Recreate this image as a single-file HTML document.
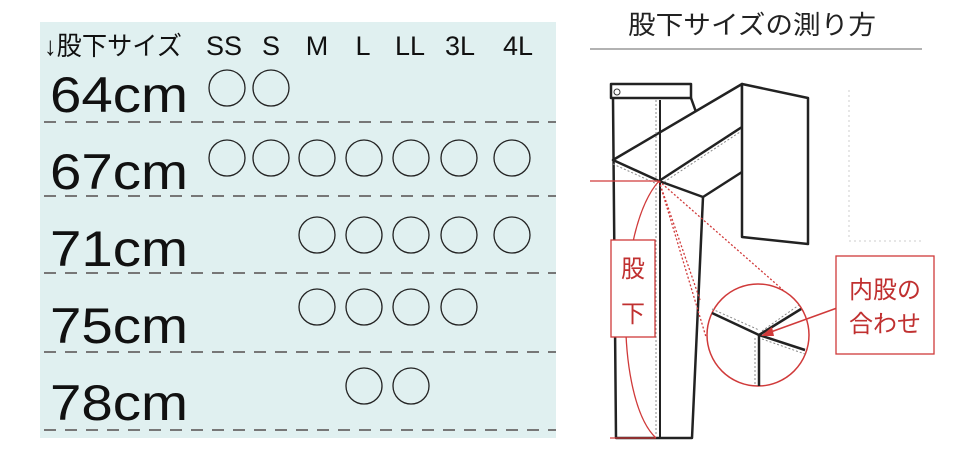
<!DOCTYPE html>
<html><head><meta charset="utf-8"><style>
html,body{margin:0;padding:0;background:#fff;width:964px;height:458px;overflow:hidden}
</style></head><body>
<svg width="964" height="458" viewBox="0 0 964 458" xmlns="http://www.w3.org/2000/svg" font-family="Liberation Sans, Noto Sans CJK JP, sans-serif">
<rect x="40" y="22" width="516" height="416" fill="#e0f0f0"/>
<text x="44" y="55" font-size="26" fill="#111" textLength="138" lengthAdjust="spacingAndGlyphs">↓股下サイズ</text>
<g font-size="27" fill="#111" text-anchor="middle">
<text x="224" y="55">SS</text><text x="271" y="55">S</text><text x="317" y="55">M</text><text x="363" y="55">L</text><text x="410" y="55">LL</text><text x="460" y="55">3L</text><text x="518" y="55">4L</text>
</g>
<g font-size="50" fill="#111">
<text x="50" y="112" textLength="138" lengthAdjust="spacingAndGlyphs">64cm</text>
<text x="50" y="189" textLength="138" lengthAdjust="spacingAndGlyphs">67cm</text>
<text x="50" y="266" textLength="138" lengthAdjust="spacingAndGlyphs">71cm</text>
<text x="50" y="343" textLength="138" lengthAdjust="spacingAndGlyphs">75cm</text>
<text x="50" y="420" textLength="138" lengthAdjust="spacingAndGlyphs">78cm</text>
</g>
<g stroke="#777" stroke-width="2" stroke-dasharray="12,9">
<line x1="44" y1="122" x2="556" y2="122"/><line x1="44" y1="196" x2="556" y2="196"/><line x1="44" y1="273" x2="556" y2="273"/><line x1="44" y1="352" x2="556" y2="352"/><line x1="44" y1="430" x2="556" y2="430"/>
</g>
<g fill="none" stroke="#222" stroke-width="1.3">
<circle cx="227" cy="88" r="18"/><circle cx="271" cy="88" r="18"/>
<circle cx="227" cy="158" r="18"/><circle cx="271" cy="158" r="18"/><circle cx="317" cy="158" r="18"/><circle cx="364" cy="158" r="18"/><circle cx="411" cy="158" r="18"/><circle cx="459" cy="158" r="18"/><circle cx="512" cy="158" r="18"/>
<circle cx="317" cy="235" r="18"/><circle cx="364" cy="235" r="18"/><circle cx="411" cy="235" r="18"/><circle cx="459" cy="235" r="18"/><circle cx="512" cy="235" r="18"/>
<circle cx="317" cy="307" r="18"/><circle cx="364" cy="307" r="18"/><circle cx="411" cy="307" r="18"/><circle cx="459" cy="307" r="18"/>
<circle cx="364" cy="386" r="18"/><circle cx="411" cy="386" r="18"/>
</g>
<text x="628" y="34" font-size="26" fill="#222" textLength="248" lengthAdjust="spacingAndGlyphs">股下サイズの測り方</text>
<line x1="590" y1="49" x2="922" y2="49" stroke="#999" stroke-width="1.5"/>
<g stroke="#ccc" stroke-dasharray="2,3" fill="none"><line x1="849" y1="90" x2="849" y2="240"/><line x1="849" y1="241" x2="922" y2="241"/></g>
<g fill="none" stroke="#222" stroke-width="2.5" stroke-linejoin="round">
<rect x="611" y="84" width="80" height="14" fill="#fff"/>
<line x1="691" y1="98" x2="696" y2="112"/>
<polyline points="613,98 616,438 692,438 703,197"/>
<polygon points="613,160 742,84 742,127 659,181" fill="#fff"/>
<polyline points="659,181 703,197 742,172"/>
<polygon points="742,84 808,98 808,244 742,237" fill="#fff"/>
<line x1="660" y1="100" x2="660" y2="438" stroke-width="2"/>
</g>
<g stroke="#888" stroke-width="1" stroke-dasharray="2,2" fill="none">
<line x1="656" y1="100" x2="656" y2="436"/><line x1="664" y1="182" x2="740" y2="132"/><line x1="613" y1="164" x2="657" y2="184"/>
</g>
<circle cx="617" cy="92" r="3" fill="none" stroke="#333"/>
<g stroke="#d03a3a" fill="none" stroke-width="1.3">
<line x1="590" y1="181" x2="659" y2="181"/>
<path d="M659,181 C615,230 615,400 656,438"/>
<line x1="610" y1="438" x2="656" y2="438"/>
<g stroke-dasharray="2,2"><line x1="659" y1="181" x2="706" y2="337"/><line x1="659" y1="181" x2="783" y2="290"/><line x1="659" y1="181" x2="700" y2="300"/></g>
</g>
<circle cx="758" cy="335" r="51" fill="#fff" stroke="#d03a3a" stroke-width="1.5"/>
<g stroke="#222" stroke-width="2.5"><line x1="712" y1="313" x2="759" y2="335"/><line x1="759" y1="335" x2="801" y2="309"/><line x1="759" y1="335" x2="805" y2="350"/><line x1="759" y1="335" x2="759" y2="386"/></g>
<g stroke="#888" stroke-dasharray="2,2" stroke-width="1"><line x1="712" y1="309" x2="759" y2="330"/><line x1="762" y1="331" x2="799" y2="305"/><line x1="762" y1="339" x2="805" y2="354"/><line x1="755" y1="338" x2="755" y2="386"/></g>
<line x1="837" y1="308" x2="768" y2="333" stroke="#d03a3a" stroke-width="1.5"/>
<polygon points="761,336 772,327 774,336" fill="#d03a3a"/>
<rect x="611" y="240" width="44" height="97" fill="#fff" stroke="#d03a3a" stroke-width="1.3"/>
<text x="633" y="277" font-size="24" fill="#c03030" text-anchor="middle">股</text>
<text x="633" y="322" font-size="24" fill="#c03030" text-anchor="middle">下</text>
<rect x="836" y="256" width="98" height="98" fill="#fff" stroke="#d03a3a" stroke-width="1.3"/>
<text x="885" y="298" font-size="24" fill="#c03030" text-anchor="middle">内股の</text>
<text x="885" y="332" font-size="24" fill="#c03030" text-anchor="middle">合わせ</text>
</svg>
</body></html>
